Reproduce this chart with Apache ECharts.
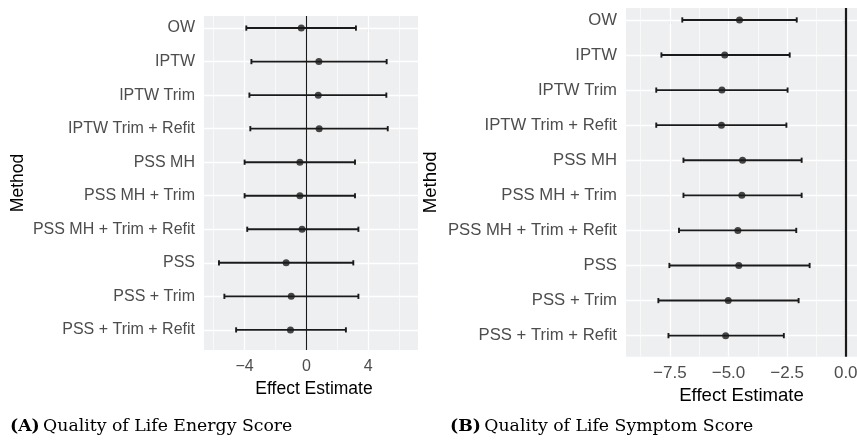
<!DOCTYPE html>
<html>
<head>
<meta charset="utf-8">
<script src="https://cdn.jsdelivr.net/npm/echarts@6/dist/echarts.min.js"></script>
<style>
  html, body { margin: 0; padding: 0; background: #ffffff; }
  #chart { width: 857px; height: 440px; }
</style>
</head>
<body>
<div id="chart"></div>
<script>
// Adjustment methods, listed top to bottom
const methods = [
  'OW', 'IPTW', 'IPTW Trim', 'IPTW Trim + Refit', 'PSS MH', 'PSS MH + Trim',
  'PSS MH + Trim + Refit', 'PSS', 'PSS + Trim', 'PSS + Trim + Refit'
];

// (A) Quality of Life Energy Score: estimate and interval bounds
const energyEst = [-0.33, 0.81, 0.77, 0.83, -0.42, -0.42, -0.28, -1.31, -0.98, -1.03];
const energyLo  = [-3.89, -3.56, -3.69, -3.63, -4.00, -4.00, -3.83, -5.66, -5.31, -4.55];
const energyHi  = [3.21, 5.20, 5.18, 5.27, 3.15, 3.15, 3.37, 3.04, 3.37, 2.56];

// (B) Quality of Life Symptom Score: estimate and interval bounds
const symptomEst = [-4.53, -5.16, -5.28, -5.30, -4.40, -4.43, -4.60, -4.56, -5.01, -5.12];
const symptomLo  = [-6.97, -7.86, -8.08, -8.08, -6.92, -6.92, -7.11, -7.52, -7.99, -7.56];
const symptomHi  = [-2.09, -2.39, -2.48, -2.53, -1.88, -1.88, -2.11, -1.54, -2.01, -2.64];

// Axis ticks (major labelled, minor grid only)
const energyTicks = [-4, 0, 4];
const energyMinor = [-6, -2, 2, 6];
const symptomTicks = [-7.5, -5, -2.5, 0];
const symptomMinor = [-8.75, -6.25, -3.75, -1.25];
const rowIndex = methods.map((_, i) => i);

const INK = '#1a1a1a';
const PANEL = '#EEEFF1';
const minus = s => String(s).replace('-', '\u2212');

// White panel grid: major/minor verticals plus one line per method row
function gridLineSeries(gi, major, minor) {
  const lines = [];
  major.forEach(v => lines.push({ xAxis: v, lineStyle: { color: '#fff', width: 1.3, type: 'solid' } }));
  minor.forEach(v => lines.push({ xAxis: v, lineStyle: { color: '#fff', width: 0.6, type: 'solid' } }));
  rowIndex.forEach(i => lines.push({ yAxis: i, lineStyle: { color: '#fff', width: 1.3, type: 'solid' } }));
  return {
    type: 'scatter', xAxisIndex: gi, yAxisIndex: gi, data: [], silent: true, z: 1,
    markLine: { z: 1, symbol: 'none', silent: true, label: { show: false }, animation: false, data: lines }
  };
}

// Reference line at zero effect
function zeroLine(gi, width) {
  return {
    type: 'scatter', xAxisIndex: gi, yAxisIndex: gi, data: [], silent: true, z: 2,
    markLine: { z: 2, symbol: 'none', silent: true, label: { show: false }, animation: false,
      data: [{ xAxis: 0, lineStyle: { color: INK, width: width, type: 'solid' } }] }
  };
}

// Horizontal interval with end caps
function errorBars(gi, lo, hi) {
  return {
    type: 'custom', xAxisIndex: gi, yAxisIndex: gi, z: 3, silent: true,
    data: lo.map((l, i) => [l, hi[i], i]),
    renderItem: (params, api) => {
      const a = api.coord([api.value(0), api.value(2)]);
      const b = api.coord([api.value(1), api.value(2)]);
      const cap = 2.6;
      const st = { stroke: INK, lineWidth: 1.9 };
      return {
        type: 'group',
        children: [
          { type: 'line', shape: { x1: a[0], y1: a[1], x2: b[0], y2: b[1] }, style: st },
          { type: 'line', shape: { x1: a[0], y1: a[1] - cap, x2: a[0], y2: a[1] + cap }, style: st },
          { type: 'line', shape: { x1: b[0], y1: b[1] - cap, x2: b[0], y2: b[1] + cap }, style: st }
        ]
      };
    }
  };
}

function points(gi, est) {
  return {
    type: 'scatter', xAxisIndex: gi, yAxisIndex: gi, z: 4, silent: true,
    symbol: 'circle', symbolSize: 7, itemStyle: { color: INK },
    data: est.map((v, i) => [v, i])
  };
}

function xAxis(gi, min, max, ticks, fmt, labelSize, labelMargin, nameSize, nameGap, namePad) {
  return {
    type: 'value', gridIndex: gi, min: min, max: max,
    axisLine: { show: false },
    splitLine: { show: false },
    axisTick: { show: true, length: 4, customValues: ticks, lineStyle: { color: '#333', width: 1.1 } },
    axisLabel: { customValues: ticks, formatter: fmt, color: '#4D4D4D', fontSize: labelSize,
      fontFamily: 'Liberation Sans', margin: labelMargin },
    name: 'Effect Estimate', nameLocation: 'middle', nameGap: nameGap,
    nameTextStyle: { color: '#000', fontSize: nameSize, fontFamily: 'Liberation Sans', padding: namePad }
  };
}

function yAxis(gi, min, labelSize, nameSize, nameGap) {
  return {
    type: 'value', gridIndex: gi, inverse: true, min: min, max: 9.6,
    axisLine: { show: false },
    splitLine: { show: false },
    axisTick: { show: true, length: 4, customValues: rowIndex, lineStyle: { color: '#333', width: 1.1 } },
    axisLabel: { customValues: rowIndex, formatter: v => methods[Math.round(v)], color: '#4D4D4D',
      fontSize: labelSize, fontFamily: 'Liberation Sans', margin: 9 },
    name: 'Method', nameLocation: 'middle', nameGap: nameGap, nameRotate: 90,
    nameTextStyle: { color: '#000', fontSize: nameSize, fontFamily: 'Liberation Sans' }
  };
}

const chart = echarts.init(document.getElementById('chart'), null, { renderer: 'canvas' });
chart.setOption({
  animation: false,
  backgroundColor: '#ffffff',
  grid: [
    { left: 204, top: 16, width: 214, height: 334, show: true, backgroundColor: PANEL, borderWidth: 0,
      outerBoundsMode: 'none', containLabel: false },
    { left: 626, top: 8, width: 231, height: 348.7, show: true, backgroundColor: PANEL, borderWidth: 0,
      outerBoundsMode: 'none', containLabel: false }
  ],
  xAxis: [
    xAxis(0, -6.63, 7.23, energyTicks, v => minus(v), 16, 9, 17.5, 25, [0, 0, 0, 6]),
    xAxis(1, -9.37, 0.48, symptomTicks, v => minus(v.toFixed(1)), 17, 8, 18.6, 25, [0, 0, 0, 0])
  ],
  yAxis: [
    yAxis(0, -0.36, 16, 17.5, 177),
    yAxis(1, -0.34, 16.7, 18.6, 186)
  ],
  series: [
    gridLineSeries(0, energyTicks, energyMinor),
    gridLineSeries(1, symptomTicks, symptomMinor),
    zeroLine(0, 1.1),
    zeroLine(1, 2.2),
    errorBars(0, energyLo, energyHi),
    errorBars(1, symptomLo, symptomHi),
    points(0, energyEst),
    points(1, symptomEst)
  ],
  graphic: [
    {
      type: 'text', left: 10, top: 418,
      style: {
        text: '{b|(A)} {r|Quality of Life Energy Score}',
        rich: {
          b: { fontFamily: 'DejaVu Serif', fontWeight: 'bold', fontSize: 17.3, fill: '#000' },
          r: { fontFamily: 'DejaVu Serif', fontSize: 17.3, fill: '#000' }
        }
      }
    },
    {
      type: 'text', left: 450, top: 418,
      style: {
        text: '{b|(B)} {r|Quality of Life Symptom Score}',
        rich: {
          b: { fontFamily: 'DejaVu Serif', fontWeight: 'bold', fontSize: 17.3, fill: '#000' },
          r: { fontFamily: 'DejaVu Serif', fontSize: 17.3, fill: '#000' }
        }
      }
    }
  ]
});
</script>
</body>
</html>
